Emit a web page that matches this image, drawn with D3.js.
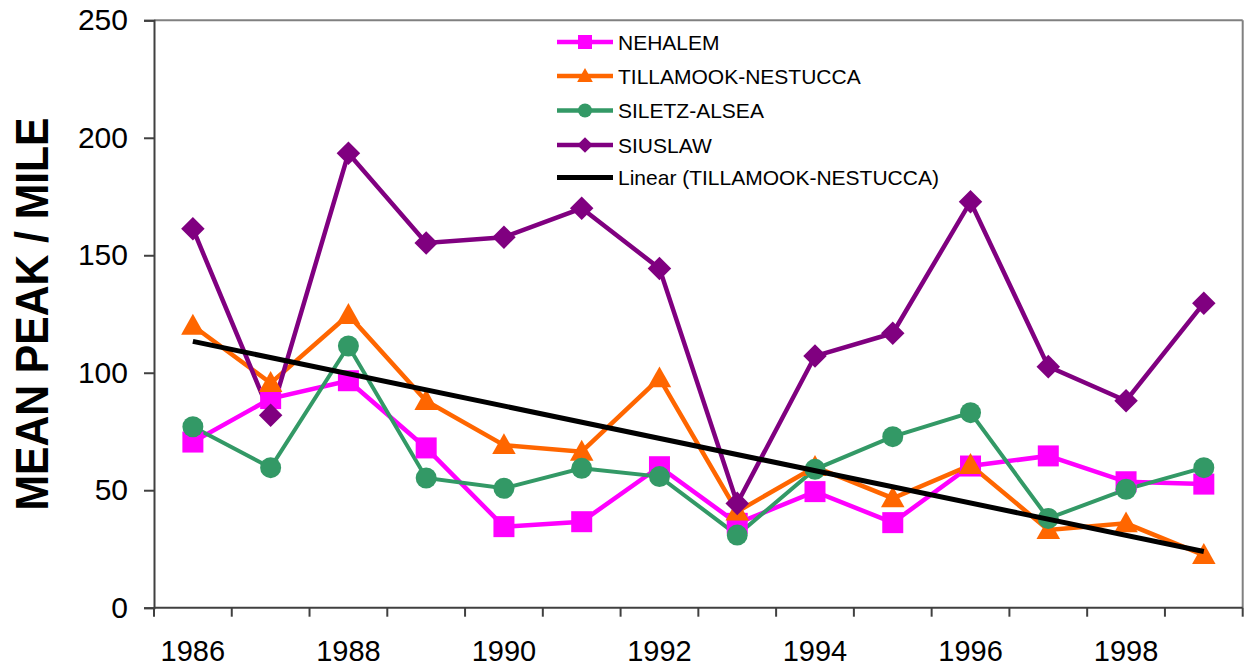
<!DOCTYPE html>
<html><head><meta charset="utf-8">
<script src="https://cdn.jsdelivr.net/npm/d3@7"></script>
<style>body{margin:0;background:#fff}svg{display:block;font-family:"Liberation Sans",Arial,sans-serif}</style>
</head><body><svg id="c" width="1244" height="666"></svg>
<script>
const years = [1986,1987,1988,1989,1990,1991,1992,1993,1994,1995,1996,1997,1998,1999];
const nehalem   = [70.5, 89, 96.6, 68, 34.5, 36.6, 60, 35.9, 49.4, 36.2, 60.3, 64.6, 53.6, 52.6];
const tillamook = [120, 95.6, 124.6, 88, 69.2, 66.4, 97.6, 40.9, 59.9, 46.6, 60.7, 33.1, 35.9, 22.4];
const siletz    = [77, 59.6, 111.4, 55.2, 50.8, 59.3, 55.8, 30.9, 58.9, 72.8, 83, 38, 50.4, 59.6];
const siuslaw   = [161.3, 81.9, 193.4, 155.2, 157.7, 170, 144.4, 44.4, 107.1, 116.8, 172.8, 102.6, 88.1, 129.6];
const yTicks = [0,50,100,150,200,250];
const xLabels = [1986,1988,1990,1992,1994,1996,1998];
const seriesNames = ["NEHALEM","TILLAMOOK-NESTUCCA","SILETZ-ALSEA","SIUSLAW"];
const trendName = "Linear (TILLAMOOK-NESTUCCA)";
const yTitle = "MEAN PEAK / MILE";

const series = [
  {name: seriesNames[0], values: nehalem,   color: "#FF00FF", marker: "square",   width: 4.5},
  {name: seriesNames[1], values: tillamook, color: "#FF6600", marker: "triangle", width: 4.5},
  {name: seriesNames[2], values: siletz,    color: "#339966", marker: "circle",   width: 4},
  {name: seriesNames[3], values: siuslaw,   color: "#800080", marker: "diamond",  width: 4.5}
];

const L = 154, T = 20.3, R = 1242.7, B = 607.7;
const svg = d3.select("#c");
const x = d3.scaleBand().domain(years).range([L, R]).padding(0);
const y = d3.scaleLinear().domain([0, 250]).range([B, T]);
const cx = d => x(d) + x.bandwidth() / 2;

// frame
svg.append("line").attr("x1", L).attr("x2", R).attr("y1", T).attr("y2", T).attr("stroke", "#808080").attr("stroke-width", 2);
svg.append("line").attr("x1", R).attr("x2", R).attr("y1", T).attr("y2", B).attr("stroke", "#808080").attr("stroke-width", 2);

// y axis
const yAxis = d3.axisLeft(y).tickValues(yTicks).tickSize(10).tickPadding(16).tickFormat(d3.format("d"));
const yg = svg.append("g").attr("transform", `translate(${L},0)`).call(yAxis);
yg.select(".domain").attr("stroke", "#404040").attr("stroke-width", 2);
yg.selectAll(".tick line").attr("stroke", "#404040").attr("stroke-width", 2);
yg.selectAll(".tick text").attr("font-size", 30).attr("font-family", "Liberation Sans, Arial, sans-serif").attr("fill", "#000");

// x axis: ticks at band boundaries
const xg = svg.append("g");
xg.append("line").attr("x1", L).attr("x2", R).attr("y1", B).attr("y2", B).attr("stroke", "#404040").attr("stroke-width", 2);
const bounds = years.map(d => x(d)).concat([R]);
xg.selectAll("line.t").data(bounds).join("line").attr("class", "t")
  .attr("x1", d => d).attr("x2", d => d).attr("y1", B).attr("y2", B + 9)
  .attr("stroke", "#404040").attr("stroke-width", 2);
xg.selectAll("text").data(xLabels).join("text")
  .attr("x", d => cx(d)).attr("y", 661).attr("text-anchor", "middle")
  .attr("font-size", 29).attr("fill", "#000").text(d => d);

// y title
svg.append("text").attr("transform", "translate(48,314) rotate(-90)")
  .attr("text-anchor", "middle").attr("font-size", 46).attr("font-weight", "bold")
  .attr("textLength", 393).attr("lengthAdjust", "spacingAndGlyphs")
  .attr("fill", "#000").text(yTitle);

// symbols
function drawMarker(g, type, px, py, color, s) {
  if (type === "square") {
    g.append("rect").attr("x", px - s/2).attr("y", py - s/2).attr("width", s).attr("height", s).attr("fill", color);
  } else if (type === "triangle") {
    const h = s * 0.95;
    g.append("path").attr("d", `M${px},${py - h*0.6}L${px + s*0.56},${py + h*0.45}L${px - s*0.56},${py + h*0.45}Z`).attr("fill", color);
  } else if (type === "circle") {
    g.append("circle").attr("cx", px).attr("cy", py).attr("r", s/2).attr("fill", color);
  } else if (type === "diamond") {
    const r = s * 0.56;
    g.append("path").attr("d", `M${px},${py - r}L${px + r},${py}L${px},${py + r}L${px - r},${py}Z`).attr("fill", color);
  }
}

const line = d3.line().x((d, i) => cx(years[i])).y(d => y(d));
const lg = svg.append("g");
series.forEach(s => {
  lg.append("path").attr("d", line(s.values)).attr("fill", "none")
    .attr("stroke", s.color).attr("stroke-width", s.width).attr("stroke-linejoin", "miter");
});
const mg = svg.append("g");
series.forEach(s => {
  s.values.forEach((v, i) => drawMarker(mg, s.marker, cx(years[i]), y(v), s.color, 21));
});

// linear trend of Tillamook-Nestucca (least squares)
const idx = years.map((d, i) => i);
const mx = d3.mean(idx), my = d3.mean(tillamook);
const slope = d3.sum(idx, i => (i - mx) * (tillamook[i] - my)) / d3.sum(idx, i => (i - mx) ** 2);
const icpt = my - slope * mx;
svg.append("line")
  .attr("x1", cx(years[0])).attr("y1", y(icpt))
  .attr("x2", cx(years[years.length - 1])).attr("y2", y(icpt + slope * (years.length - 1)))
  .attr("stroke", "#000").attr("stroke-width", 5);

// legend
const legendItems = series.map(s => ({name: s.name, color: s.color, marker: s.marker}))
  .concat([{name: trendName, color: "#000", marker: null}]);
const legY = [42, 76, 110.5, 145, 177.5];
const leg = svg.append("g");
legendItems.forEach((it, i) => {
  const yy = legY[i];
  leg.append("line").attr("x1", 557).attr("x2", 613).attr("y1", yy).attr("y2", yy)
    .attr("stroke", it.color).attr("stroke-width", it.marker ? 4.5 : 5);
  if (it.marker) drawMarker(leg, it.marker, 585, yy, it.color, 14);
  leg.append("text").attr("x", 618).attr("y", yy + 7.5).attr("font-size", 21).attr("fill", "#000").text(it.name);
});
</script></body></html>
